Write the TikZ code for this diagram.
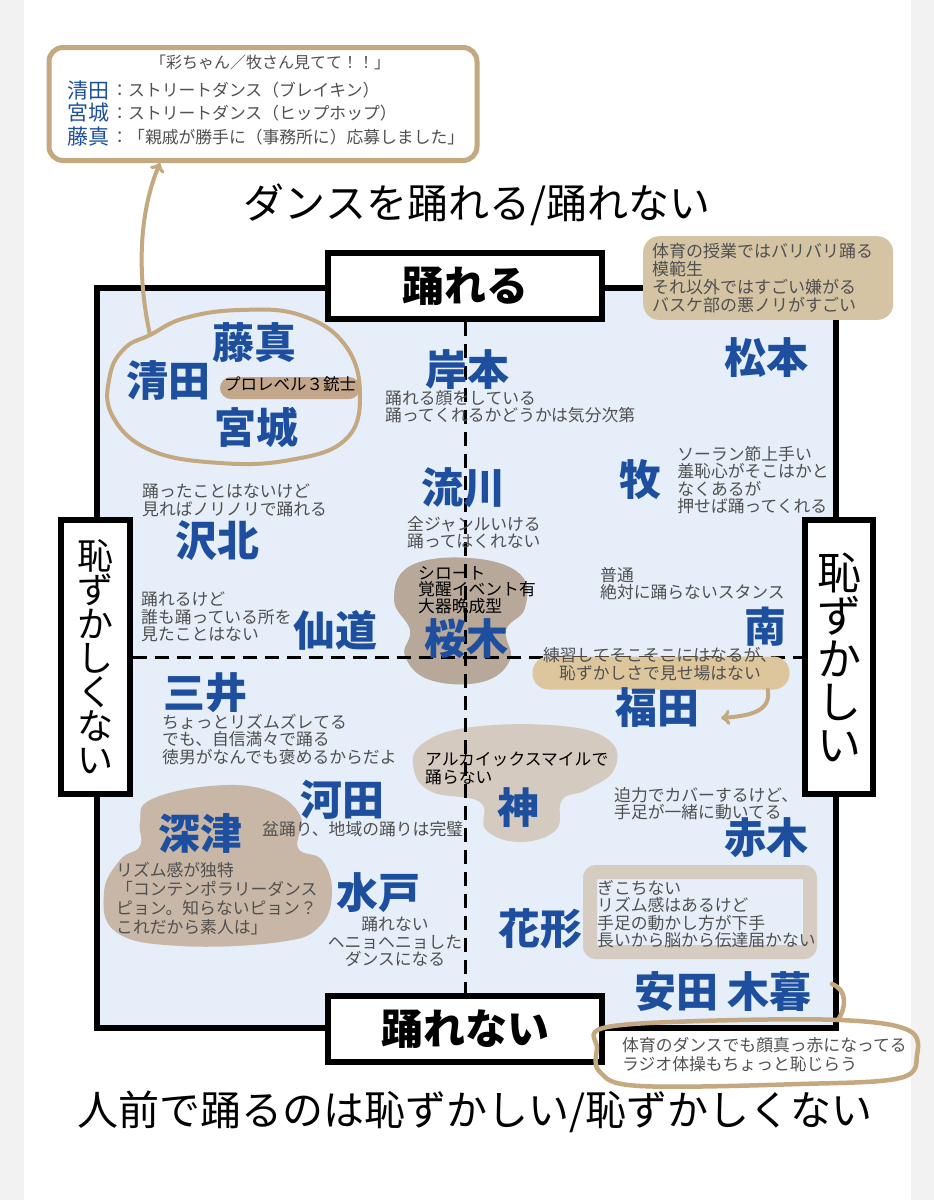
\documentclass[tikz,border=0pt]{standalone}
\usepackage{fontspec}
\newfontfamily\cjk{Noto Sans CJK JP}
\usetikzlibrary{positioning}
\definecolor{nameblue}{RGB}{29,79,158}
\definecolor{memogray}{RGB}{80,80,80}
\definecolor{sqfill}{RGB}{229,238,249}
\definecolor{sidegray}{RGB}{242,242,242}
\definecolor{tanline}{RGB}{196,168,128}
\definecolor{sakufill}{RGB}{183,168,153}
\definecolor{jinfill}{RGB}{213,202,191}
\definecolor{fukafill}{RGB}{200,183,167}
\definecolor{fukupill}{RGB}{222,198,156}
\definecolor{matsufill}{RGB}{212,196,164}
\definecolor{hanaline}{RGB}{214,204,193}
\definecolor{triofill}{RGB}{196,167,139}
\tikzset{
  who/.style={font=\cjk\bfseries\fontsize{42}{42}\selectfont, text=nameblue, inner sep=0pt},
  memo/.style={font=\cjk\fontsize{16.8}{17.5}\selectfont, text=memogray, align=left, inner sep=0pt},
  axisbox/.style={draw, line width=6pt, fill=white, inner sep=0pt, font=\cjk\bfseries\fontsize{42}{42}\selectfont},
  tanarrow/.style={draw=tanline, line width=4pt, line cap=round, ->},
}
\begin{document}
\begin{tikzpicture}[x=1pt,y=-1pt]
\useasboundingbox (0,0) rectangle (934,1200);
\fill[sidegray] (0,0) rectangle (934,1200);
\fill[white] (24,0) rectangle (911,1200);
\node[font=\cjk\fontsize{41}{41}\selectfont] (title) at (477,205) {ダンスを踊れる/踊れない};
\node[font=\cjk\fontsize{41}{41}\selectfont] (subtitle) at (475,1112) {人前で踊るのは恥ずかしい/恥ずかしくない};
\draw[line width=6pt, fill=sqfill] (97,288) rectangle (836,1028);
\fill[sakufill] plot[smooth cycle, tension=0.7] coordinates {(410,566) (470,558) (520,574) (525,608) (506,630) (510,660) (482,682) (430,680) (405,656) (410,630) (394,600)};
\fill[jinfill] plot[smooth cycle, tension=0.7] coordinates {(422,744) (472,727) (562,726) (610,741) (614,770) (586,790) (562,800) (556,830) (520,842) (486,830) (480,802) (432,792) (414,770)};
\fill[fukafill] plot[smooth cycle, tension=0.7] coordinates {(150,800) (210,786) (266,790) (300,815) (298,848) (322,860) (332,892) (320,926) (280,942) (180,946) (116,932) (104,892) (120,860) (140,846) (140,822)};
\node[axisbox, minimum width=274pt, minimum height=66pt] (can) at (465,286) {踊れる};
\node[axisbox, minimum width=274pt, minimum height=66pt] (cannot) at (465,1029) {踊れない};
\node[axisbox, minimum width=69pt, minimum height=274pt, align=center, font=\cjk\fontsize{36}{34}\selectfont] (calm) at (95,657) {恥\\ず\\か\\し\\く\\な\\い};
\node[axisbox, minimum width=68pt, minimum height=274pt, align=center, font=\cjk\fontsize{44}{43}\selectfont] (shy) at (839,657) {恥\\ず\\か\\し\\い};
\draw[line width=3pt, dash pattern=on 14pt off 8pt] (can.south) -- (cannot.north);
\draw[line width=3pt, dash pattern=on 14pt off 8pt] (calm.east) -- (shy.west);
\node[fill=fukupill, rounded corners=16pt, minimum width=257pt, minimum height=33pt] (fukunote) at (661,673) {};
\node[fill=triofill, rounded corners=11pt, minimum width=140pt, minimum height=22pt] (trio) at (290,388) {};
\draw[draw=hanaline, line width=14pt, rounded corners=6pt] (590,872) rectangle (810,952);
\node[memo, fill=matsufill, rounded corners=16pt, inner xsep=9pt, inner ysep=7pt, text width=232pt, anchor=north west, font=\cjk\fontsize{17}{18}\selectfont] (matsunote) at (643,236) {体育の授業ではバリバリ踊る\\模範生\\それ以外ではすごい嫌がる\\バスケ部の悪ノリがすごい};
\node[who] (fujima) at (254,343) {藤真};
\node[who] (kiyota) at (168,381) {清田};
\node[who] (miyagi) at (256,427) {宮城};
\node[memo, text=black, font=\cjk\fontsize{16.5}{16.5}\selectfont] (triotext) at (290,384) {プロレベル３銃士};
\node[who] (kishimoto) at (467,370) {岸本};
\node[memo, anchor=north west] (kishimemo) at (385,390) {踊れる顔をしている\\踊ってくれるかどうかは気分次第};
\node[who] (matsumoto) at (766,358) {松本};
\node[who] (maki) at (640,480) {牧};
\node[memo, right=16pt of maki] (makimemo) {ソーラン節上手い\\羞恥心がそこはかと\\なくあるが\\押せば踊ってくれる};
\node[who] (rukawa) at (463,488) {流川};
\node[memo, anchor=north west] (rukamemo) at (407,516) {全ジャンルいける\\踊ってはくれない};
\node[who] (sawakita) at (217,541) {沢北};
\node[memo, anchor=north west] (sawamemo) at (142,484) {踊ったことはないけど\\見ればノリノリで踊れる};
\node[who] (sendo) at (335,630) {仙道};
\node[memo, anchor=north west] (sendomemo) at (141,592) {踊れるけど\\誰も踊っている所を\\見たことはない};
\node[who] (sakuragi) at (466,639) {桜木};
\node[memo, anchor=north west, text=black, font=\cjk\fontsize{16.8}{16.5}\selectfont] (sakumemo) at (418,566) {シロート\\覚醒イベント有\\大器晩成型};
\node[memo, anchor=north west] (minamimemo) at (600,567) {普通\\絶対に踊らないスタンス};
\node[who] (minami) at (765,627) {南};
\node[memo, align=center] (fukumemo) at (660,664) {練習してそこそこにはなるが、\\恥ずかしさで見せ場はない};
\node[who] (fukuda) at (657,708) {福田};
\node[who] (mitsui) at (205,693) {三井};
\node[memo, anchor=north west] (mitsumemo) at (162,714) {ちょっとリズムズレてる\\でも、自信満々で踊る\\徳男がなんでも褒めるからだよ};
\node[memo, anchor=north west, text=black] (jinmemo) at (425,752) {アルカイックスマイルで\\踊らない};
\node[who] (jin) at (518,808) {神};
\node[who] (kawata) at (342,800) {河田};
\node[memo, anchor=north west] (kawamemo) at (262,821) {盆踊り、地域の踊りは完璧};
\node[who] (fukatsu) at (200,833) {深津};
\node[memo, anchor=north west, font=\cjk\fontsize{16.8}{19}\selectfont] (fukamemo) at (116,862) {リズム感が独特\\「コンテンポラリーダンス\\ピョン。知らないピョン？\\これだから素人は」};
\node[who] (mito) at (378,893) {水戸};
\node[memo, align=center, anchor=north] (mitomemo) at (395,917) {踊れない\\ヘニョヘニョした\\ダンスになる};
\node[memo, anchor=north west] (akagimemo) at (614,787) {迫力でカバーするけど、\\手足が一緒に動いてる};
\node[who] (akagi) at (766,838) {赤木};
\node[who] (hanagata) at (540,929) {花形};
\node[memo, anchor=north west] (hanamemo) at (597,880) {ぎこちない\\リズム感はあるけど\\手足の動かし方が下手\\長いから脳から伝達届かない};
\node[who] (yasuda) at (723,992) {安田 木暮};
\node[memo, anchor=north west, font=\cjk\fontsize{16.8}{19}\selectfont] (yasumemo) at (622,1037) {体育のダンスでも顔真っ赤になってる\\ラジオ体操もちょっと恥じらう};
\draw[draw=tanline, line width=4.5pt] plot[smooth cycle, tension=0.6] coordinates {(603,1028) (700,1021) (840,1020) (908,1030) (917,1055) (900,1078) (800,1084) (640,1086) (600,1072) (597,1048)};
\draw[draw=tanline, line width=4.5pt, line cap=round] (832,984) .. controls (848,990) and (846,1008) .. (838,1020);
\draw[draw=tanline, line width=4pt] plot[smooth cycle, tension=0.7] coordinates {(150,335) (185,318) (240,310) (300,315) (345,345) (360,395) (345,440) (290,460) (220,463) (150,450) (112,415) (110,375) (125,348)};
\node[draw=tanline, line width=5pt, rounded corners=14pt, minimum width=428pt, minimum height=113pt] (cheer) at (263,104) {};
\node[memo, font=\cjk\fontsize{16}{16}\selectfont] (cheerline) at (270,62) {「彩ちゃん／牧さん見てて！！」};
\node[who, font=\cjk\fontsize{21}{21}\selectfont] (kiyotatag) at (88,90) {清田};
\node[memo, right=2pt of kiyotatag] (kiyotarole) {：ストリートダンス（ブレイキン）};
\node[who, font=\cjk\fontsize{21}{21}\selectfont] (miyagitag) at (88,113) {宮城};
\node[memo, right=2pt of miyagitag] (miyagirole) {：ストリートダンス（ヒップホップ）};
\node[who, font=\cjk\fontsize{21}{21}\selectfont] (fujimatag) at (88,137) {藤真};
\node[memo, right=2pt of fujimatag] (fujimarole) {：「親戚が勝手に（事務所に）応募しました」};
\coordinate (blobtip) at (150,335);
\draw[tanarrow] (blobtip) .. controls (136,270) and (140,210) .. ([xshift=-103pt]cheer.south);
\draw[tanarrow] ([xshift=-22pt]fukunote.south east) .. controls (772,712) and (748,716) .. ([xshift=22pt,yshift=-10pt]fukuda.east);
\end{tikzpicture}
\end{document}
